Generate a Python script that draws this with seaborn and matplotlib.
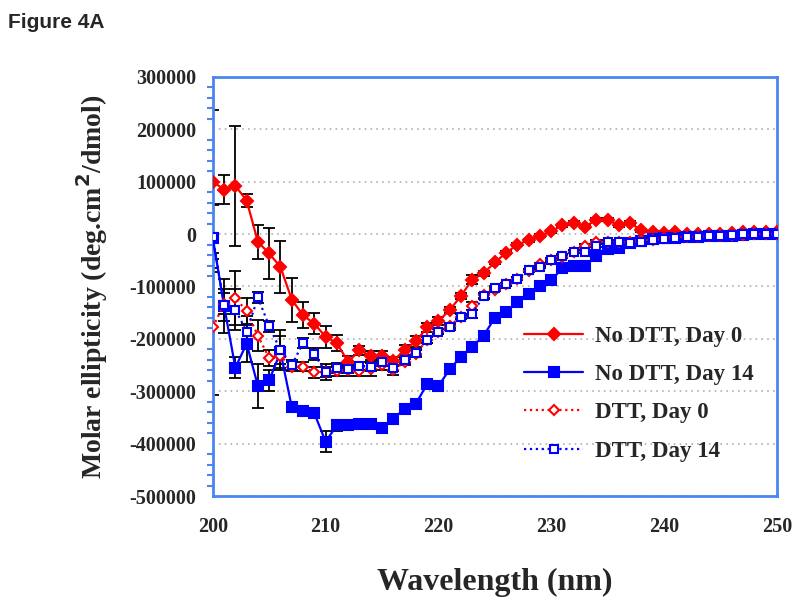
import numpy as np
import pandas as pd
import seaborn as sns
import matplotlib
matplotlib.use("Agg")
import matplotlib.pyplot as plt
from matplotlib.ticker import MultipleLocator, FuncFormatter

# wavelength, nm (1 nm steps)
wavelength = list(range(200, 251))

no_dtt_day0 = [100000, 85000, 92000, 64000, -15000, -37000, -63000, -125000, -155000, -171000,
               -196000, -208000, -244000, -222000, -232000, -232000, -242000, -221000, -205000, -178000,
               -166000, -145000, -118000, -87000, -75000, -54000, -36000, -20000, -12000, -3000,
               5000, 17000, 21000, 14000, 27000, 27000, 17000, 21000, 7000, 3000,
               2000, 3000, 1000, 0, 0, 1000, 2000, 3000, 4000, 4000, 3000]
no_dtt_day14 = [-8000, -137000, -255000, -209000, -290000, -279000, -225000, -330000, -337000, -342000,
                -396000, -365000, -364000, -363000, -362000, -370000, -352000, -334000, -324000, -286000,
                -290000, -258000, -234000, -215000, -194000, -160000, -149000, -130000, -115000, -100000,
                -88000, -65000, -61000, -61000, -42000, -28000, -26000, -18000, -14000, -10000,
                -8000, -7000, -6000, -5000, -4000, -3000, -3000, -2000, 0, 1000, 0]
dtt_day0 = [-178000, -133000, -122000, -147000, -194000, -237000, -233000, -253000, -253000, -264000,
            -263000, -261000, -260000, -261000, -258000, -250000, -260000, -244000, -228000, -202000,
            -186000, -175000, -158000, -137000, -117000, -106000, -96000, -85000, -70000, -58000,
            -50000, -43000, -34000, -22000, -15000, -15000, -15000, -16000, -11000, -12000,
            -8000, -6000, -5000, -5000, -4000, -3000, -2000, -1000, 1000, 0, 0]
dtt_day14 = [-5000, -135000, -144000, -186000, -121000, -176000, -222000, -250000, -208000, -229000,
             -263000, -256000, -258000, -252000, -253000, -244000, -256000, -240000, -226000, -202000,
             -186000, -178000, -158000, -152000, -119000, -103000, -96000, -85000, -69000, -62000,
             -49000, -42000, -34000, -34000, -22000, -16000, -16000, -17000, -15000, -12000,
             -10000, -8000, -6000, -5000, -4000, -3000, -2000, 0, 1000, 1000, 0]

# error bars (first points carry the big ones, the rest are small)
err_no_dtt_day0 = [136000, 27000, 115000, 12000, 32000, 48000, 49000, 42000, 25000, 20000,
                   21000, 15000, 12000, 8000, 8000, 8000, 8000, 10000, 10000, 8000,
                   8000, 6000, 6000, 8000, 5000] + [3000] * 26
err_no_dtt_day14 = [65000, 52000, 20000, 35000, 42000, 20000, 30000, 10000, 8000, 6000,
                    20000, 10000, 6000, 5000, 5000, 5000, 5000, 5000, 5000, 5000] + [3000] * 31
err_dtt_day0 = [130000, 20000, 51000, 25000, 30000, 15000, 15000, 8000, 8000, 10000,
                10000, 10000, 10000, 10000, 12000, 10000, 8000, 6000, 6000, 6000,
                5000, 5000, 5000, 8000, 5000] + [3000] * 26
err_dtt_day14 = [60000, 30000, 40000, 30000, 10000, 10000, 38000, 10000, 10000, 12000,
                 15000, 10000, 8000, 8000, 8000, 8000, 6000, 6000, 6000, 6000,
                 5000, 5000, 5000, 8000, 5000] + [3000] * 26

series_labels = ["No DTT, Day 0", "No DTT, Day 14", "DTT, Day 0", "DTT, Day 14"]

RED = "#ff0000"
BLUE = "#0000ff"
FRAME = "#4a86f0"

sns.set_style("white")
plt.rcParams["font.family"] = ["Liberation Serif", "DejaVu Serif"]
plt.rcParams["font.weight"] = "bold"

df = pd.DataFrame({
    "wavelength": wavelength,
    "no_dtt_day0": no_dtt_day0,
    "no_dtt_day14": no_dtt_day14,
    "dtt_day0": dtt_day0,
    "dtt_day14": dtt_day14,
})

fig = plt.figure(figsize=(8, 6.05), dpi=100)
ax = fig.add_axes([0.266, 0.180, 0.705, 0.693])

# error bars go under the markers
for col, err in [("no_dtt_day0", err_no_dtt_day0), ("no_dtt_day14", err_no_dtt_day14),
                 ("dtt_day0", err_dtt_day0), ("dtt_day14", err_dtt_day14)]:
    ax.errorbar(df["wavelength"], df[col], yerr=err, fmt="none", ecolor="black",
                elinewidth=1.3, capsize=4, capthick=1.3, zorder=2)

styles = [
    ("no_dtt_day0", RED, "D", "-", RED, 6.5),
    ("no_dtt_day14", BLUE, "s", "-", BLUE, 6.5),
    ("dtt_day0", RED, "D", ":", "white", 5),
    ("dtt_day14", BLUE, "s", ":", "white", 5.5),
]
for (col, color, marker, ls, face, ms), label in zip(styles, series_labels):
    sns.lineplot(data=df, x="wavelength", y=col, ax=ax, color=color, marker=marker,
                 markersize=ms, markerfacecolor=face, markeredgecolor=color,
                 markeredgewidth=1.5, linestyle=ls, linewidth=1.6, label=label, zorder=3)

ax.set_xlim(200, 250)
ax.set_ylim(-500000, 300000)
ax.xaxis.set_major_locator(MultipleLocator(10))
ax.yaxis.set_major_locator(MultipleLocator(100000))
ax.yaxis.set_minor_locator(MultipleLocator(20000))
ax.yaxis.set_major_formatter(FuncFormatter(lambda v, p: f"{int(round(v))}"))

ax.grid(axis="y", which="major", color="#b0b0b0", linestyle=(0, (1, 2.5)), linewidth=1.2)
ax.grid(axis="x", visible=False)

for side in ["left", "right", "top", "bottom"]:
    ax.spines[side].set_color(FRAME)
    ax.spines[side].set_linewidth(2)

ax.tick_params(axis="both", which="both", direction="out", color=FRAME, width=1.5)
ax.tick_params(axis="y", which="major", length=6, pad=6, labelsize=14.5)
ax.tick_params(axis="y", which="minor", length=4, left=True)
ax.tick_params(axis="x", which="major", length=6, pad=9, labelsize=14.5)
for t in ax.get_xticklabels() + ax.get_yticklabels():
    t.set_fontweight("bold")

ax.set_xlabel("Wavelength (nm)", fontsize=23, fontweight="bold", labelpad=22)
ax.set_ylabel("Molar ellipticity (deg.cm$^\\mathbf{2}$/dmol)", fontsize=20, fontweight="bold", labelpad=14)

ax.legend(loc="upper left", bbox_to_anchor=(0.515, 0.455), frameon=False, handlelength=2.6,
          labelspacing=0.75, handletextpad=0.5, prop={"weight": "bold", "size": 16.5})

fig.text(0.01, 0.978, "Figure 4A", fontsize=15, fontweight="bold", family="Liberation Sans",
         va="top", ha="left")

fig.savefig("out.png", dpi=100, facecolor="white")
